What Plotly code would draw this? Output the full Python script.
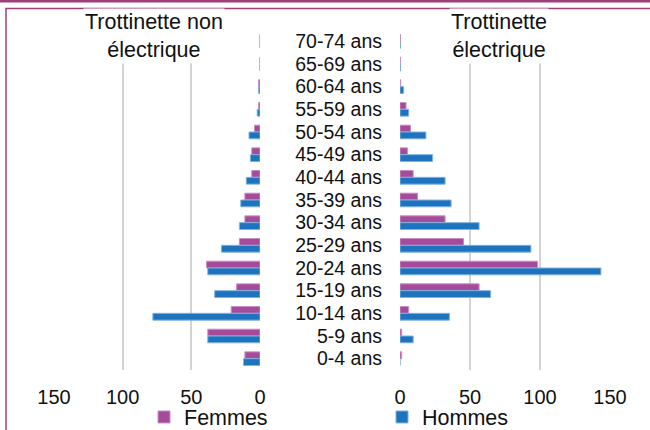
import plotly.graph_objects as go

# ---- data ----
categories = ["70-74 ans", "65-69 ans", "60-64 ans", "55-59 ans", "50-54 ans",
              "45-49 ans", "40-44 ans", "35-39 ans", "30-34 ans", "25-29 ans",
              "20-24 ans", "15-19 ans", "10-14 ans", "5-9 ans", "0-4 ans"]
non_elec_femmes = [0, 0, 1, 1, 4, 6, 6, 11, 11, 15, 39, 17, 21, 38, 11]
non_elec_hommes = [0, 0, 1, 2, 8, 7, 10, 14, 15, 28, 38, 33, 78, 38, 12]
elec_femmes = [0.3, 0.3, 0.5, 4.3, 7.5, 5.3, 9.4, 12.5, 32.2, 45.4, 98.3, 56.5, 6.2, 1.2, 1.2]
elec_hommes = [0.4, 0.4, 2.6, 6.2, 18.5, 23.3, 32.2, 36.5, 56.5, 93.5, 143.5, 64.7, 35.3, 9.4, 0]
tick_vals = [0, 50, 100, 150]
title_left = "Trottinette non<br>électrique"
title_right = "Trottinette<br>électrique"

W, H = 650, 430
FONT = "Liberation Sans, Arial, sans-serif"
PURPLE = "#A64A9B"
BLUE = "#1E73BE"
PURPLE_EDGE = "#C98FC2"
BLUE_EDGE = "#7FB2DE"
FRAME = "#9E3F79"

def px(x):
    return x / W

def py(y):
    return 1 - y / H

fig = go.Figure()

# left (non electric)
fig.add_trace(go.Bar(y=categories, x=non_elec_femmes, orientation="h", name="Femmes",
                     marker=dict(color=PURPLE, line=dict(color=PURPLE_EDGE, width=1)),
                     xaxis="x", yaxis="y", legend="legend"))
fig.add_trace(go.Bar(y=categories, x=non_elec_hommes, orientation="h", name="Hommes",
                     marker=dict(color=BLUE, line=dict(color=BLUE_EDGE, width=1)),
                     xaxis="x", yaxis="y", showlegend=False))
# right (electric)
fig.add_trace(go.Bar(y=categories, x=elec_femmes, orientation="h", name="Femmes",
                     marker=dict(color=PURPLE, line=dict(color=PURPLE_EDGE, width=1)),
                     xaxis="x2", yaxis="y2", showlegend=False))
fig.add_trace(go.Bar(y=categories, x=elec_hommes, orientation="h", name="Hommes",
                     marker=dict(color=BLUE, line=dict(color=BLUE_EDGE, width=1)),
                     xaxis="x2", yaxis="y2", legend="legend2"))

ydom = [py(370), py(30)]
xaxis_common = dict(tickvals=tick_vals, ticktext=[str(v) for v in tick_vals],
                    showgrid=True, gridcolor="#D3D3D3", gridwidth=2,
                    zeroline=False, showline=False, ticks="",
                    ticklabelstandoff=13,
                    tickfont=dict(family=FONT, size=20, color="#111111"),
                    fixedrange=True)
yaxis_common = dict(type="category", categoryorder="array", categoryarray=categories,
                    autorange=False, range=[14.5, -0.5], showgrid=False,
                    zeroline=False, showline=False, ticks="",
                    tickmode="array", tickvals=categories, ticktext=categories,
                    fixedrange=True)

fig.update_layout(
    width=W, height=H,
    margin=dict(l=0, r=0, t=0, b=0, autoexpand=False),
    paper_bgcolor="white", plot_bgcolor="white",
    barmode="group", bargap=0.4, bargroupgap=0.0,
    xaxis=dict(domain=[px(54), px(260)], range=[150, 0], anchor="y", **xaxis_common),
    xaxis2=dict(domain=[px(400), px(610)], range=[0, 150], anchor="y2", **xaxis_common),
    yaxis=dict(domain=ydom, anchor="x", showticklabels=False, **yaxis_common),
    yaxis2=dict(domain=ydom, anchor="x2", showticklabels=True, side="left",
                ticklabelstandoff=17,
                tickfont=dict(family=FONT, size=19.5, color="#111111"), **yaxis_common),
    legend=dict(x=px(144), y=py(417), xanchor="left", yanchor="middle",
                orientation="h", font=dict(family=FONT, size=21.5, color="#111111"),
                bgcolor="rgba(0,0,0,0)"),
    legend2=dict(x=px(382), y=py(417), xanchor="left", yanchor="middle",
                 orientation="h", font=dict(family=FONT, size=21.5, color="#111111"),
                 bgcolor="rgba(0,0,0,0)"),
    annotations=[
        dict(text=title_left, x=px(154), y=py(36), xref="paper", yref="paper",
             showarrow=False, bgcolor="white", xanchor="center", yanchor="middle",
             font=dict(family=FONT, size=21.5, color="#111111")),
        dict(text=title_right, x=px(499), y=py(36), xref="paper", yref="paper",
             showarrow=False, bgcolor="white", xanchor="center", yanchor="middle",
             font=dict(family=FONT, size=21.5, color="#111111")),
    ],
    shapes=[
        dict(type="rect", xref="paper", yref="paper", x0=0, x1=1, y0=py(2.5), y1=1,
             fillcolor=FRAME, line=dict(width=0), layer="above"),
        dict(type="rect", xref="paper", yref="paper", x0=px(6), x1=px(700),
             y0=py(480), y1=py(8.5), line=dict(color=FRAME, width=1.5),
             fillcolor="rgba(0,0,0,0)", layer="above"),
    ],
    showlegend=True,
)

fig.write_html("out.html",
               config={"displayModeBar": False},
               post_script="document.body.style.margin='0px';"
                           "document.body.style.overflow='hidden';")
